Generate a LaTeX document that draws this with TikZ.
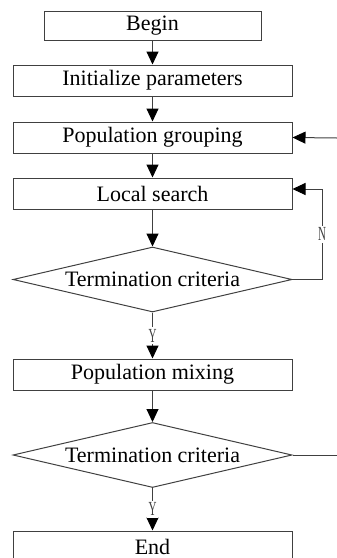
\documentclass[tikz,border=0pt]{standalone}
\usepackage{graphicx}
\usepackage{fontspec}
\setmainfont{Liberation Serif}
\usetikzlibrary{arrows.meta,positioning,shapes.geometric}
\definecolor{Line}{HTML}{404040}
\newcommand{\narrowtxt}[1]{\scalebox{0.55}[1]{#1}}

\begin{document}
\begin{tikzpicture}[x=0.5pt,y=-0.5pt,
  stepbox/.style={draw=Line,line width=0.5pt,minimum width=139.5pt,minimum height=15.5pt,inner sep=0pt,font=\fontsize{11}{11}\selectfont},
  test/.style={diamond,aspect=4.28,draw=Line,line width=0.5pt,minimum width=139.5pt,minimum height=32.5pt,inner sep=0pt,font=\fontsize{11}{11}\selectfont},
  flow/.style={-{Triangle[length=6.5pt,width=6pt,color=black]},draw=Line,line width=0.5pt},
  yn/.style={fill=white,inner sep=1pt,text=Line,font=\fontsize{10}{10}\selectfont}
]
\useasboundingbox (0,0) rectangle (337,558);
\clip (0,0) rectangle (337,558);
\node[stepbox,minimum width=108.5pt,minimum height=14.5pt] (begin) at (152.5,25.5) {Begin};
\node[stepbox] (init) at (152.5,80.5) {Initialize parameters};
\node[stepbox] (group) at (152.5,137.5) {Population grouping};
\node[stepbox] (local) at (152.5,193.5) {Local search};
\node[test] (test1) at (152.5,279.5) {Termination criteria};
\node[stepbox] (mix) at (152.5,374.5) {Population mixing};
\node[test] (test2) at (152.5,455) {Termination criteria};
\node[stepbox] (stop) at (152.5,546.5) {End};
\coordinate (loop) at (322,279.5);
\coordinate (fromright) at (337,138);
\coordinate (toright) at (337,455);
\draw[flow] (begin) -- (init);
\draw[flow] (init) -- (group);
\draw[flow] (group) -- (local);
\draw[flow] (local) -- (test1);
\draw[flow] (test1) -- node[yn] {\narrowtxt{Y}} (mix);
\draw[flow] (test1.east) -- (loop) |- node[yn,pos=0.25] {\narrowtxt{N}} ([yshift=2.25pt]local.east);
\draw[flow] (fromright) -- (group.east);
\draw[flow] (mix) -- (test2);
\draw[flow] (test2) -- node[yn] {\narrowtxt{Y}} (stop);
\draw[draw=Line,line width=0.5pt] (test2.east) -- (toright);
\end{tikzpicture}
\end{document}
